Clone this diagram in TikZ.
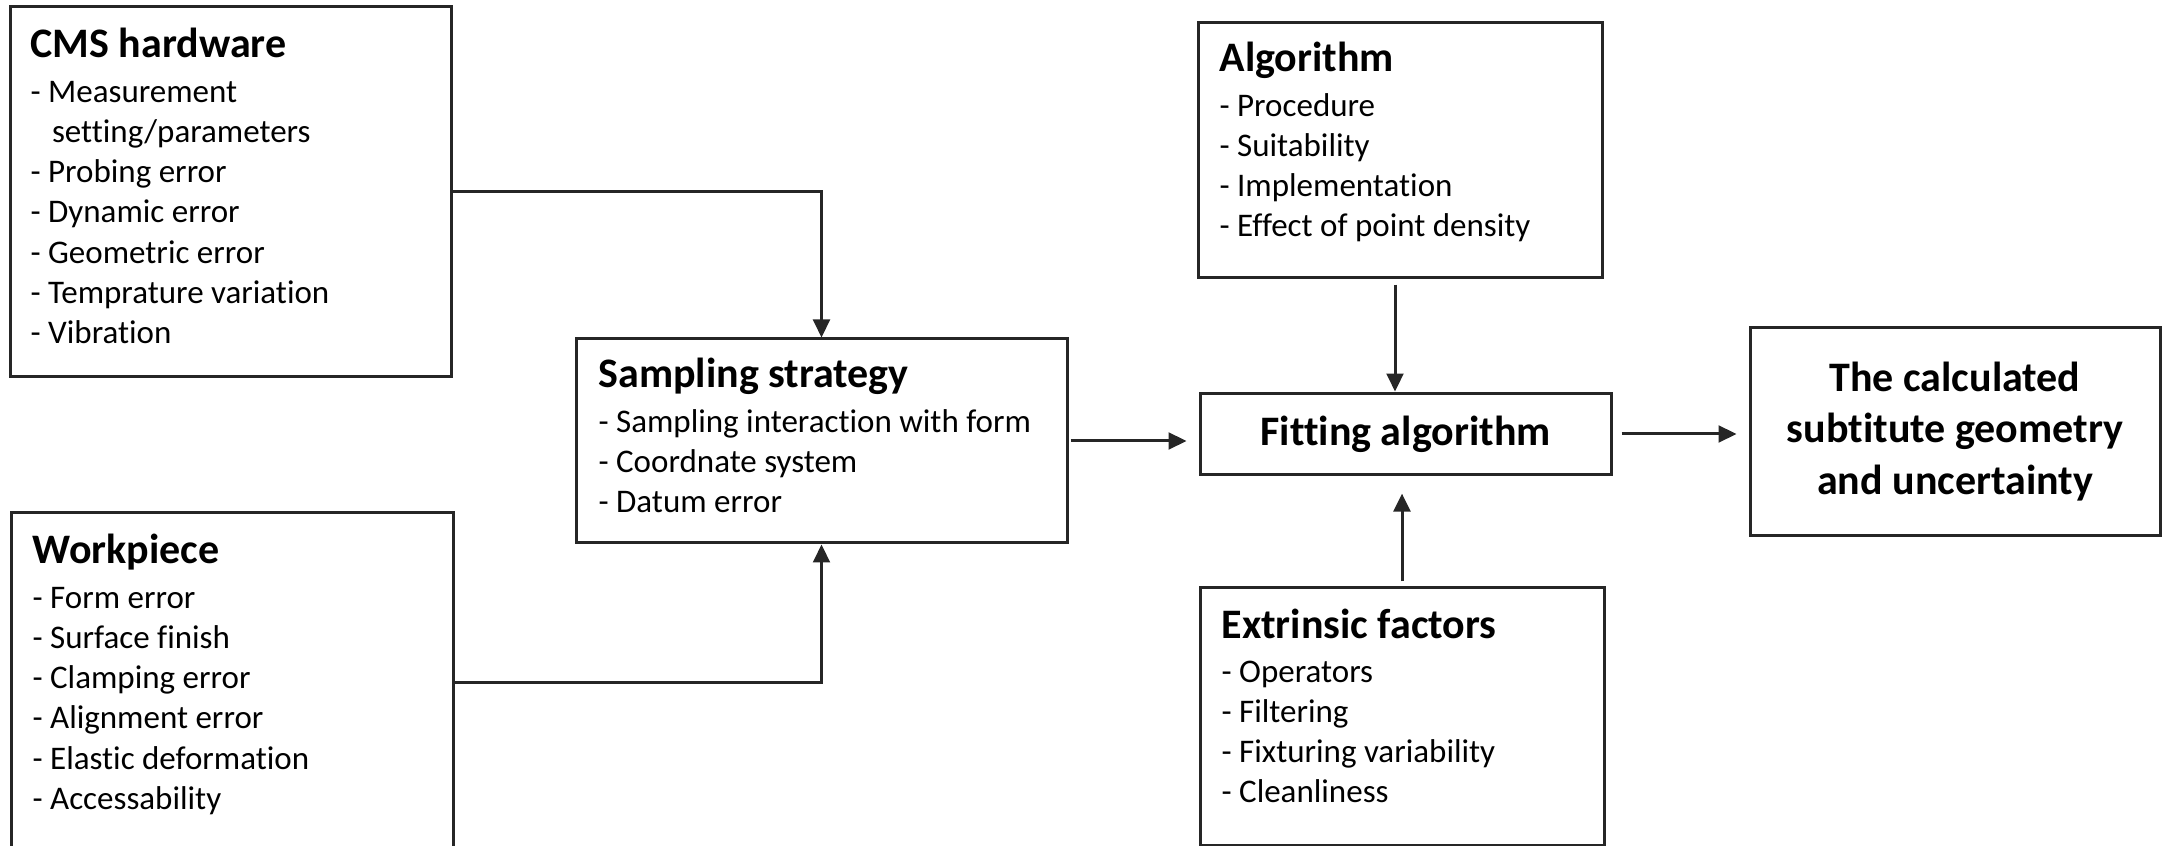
\documentclass[tikz,border=0pt]{standalone}
\usepackage{fontspec}
\setmainfont{Carlito}[Ligatures=NoCommon]
\usetikzlibrary{arrows.meta,fit,calc}

% A heading in bold followed by a list of dash items
\newcommand\factorlist[2]{%
  \parbox[t]{220pt}{\raggedright
    \fontsize{14}{14}\selectfont\bfseries #1\par
    \vspace{1.27pt}%
    \fontsize{11}{13.43}\selectfont\mdseries #2}}
\newcommand\contline{\hspace*{0.65em}}

\tikzset{
  box/.style={draw=black!85, line width=1pt, inner sep=0pt},
  conn/.style={draw=black!85, line width=1pt},
  arr/.style={conn, -{Triangle[length=6pt,width=5.6pt]}},
  listtext/.style={anchor=base west, inner sep=0pt},
  headline/.style={box, font=\fontsize{14}{17.2}\selectfont\bfseries, align=center},
}

\begin{document}
\begin{tikzpicture}[x=0.33333pt, y=-0.33333pt]
\useasboundingbox (0,0) rectangle (2164,846);

% boxes
\node[box, fit={(10,7) (451,377)}] (cms) {};
\node[box, fit={(11,513) (453,851)}] (wp) {};
\node[box, fit={(576,339) (1067,543)}] (sam) {};
\node[box, fit={(1198,23) (1602,278)}] (alg) {};
\node[headline, minimum width=137pt, minimum height=27.33pt] (fita) at (1405.5,434) {Fitting algorithm};
\node[box, fit={(1200,588) (1604,845)}] (ext) {};
\node[headline, minimum width=136.67pt, minimum height=69pt] (res) at (1955,431.5)
  {The calculated\\subtitute geometry\\and uncertainty};

% box contents
\node[listtext] (cmst) at (30,58) {\factorlist{CMS hardware}{%
  - Measurement\\\contline setting/parameters\\- Probing error\\- Dynamic error\\%
  - Geometric error\\- Temprature variation\\- Vibration}};
\node[listtext] (wpt) at (32,564) {\factorlist{Workpiece}{%
  - Form error\\- Surface finish\\- Clamping error\\- Alignment error\\%
  - Elastic deformation\\- Accessability}};
\node[listtext] (samt) at (598,388) {\factorlist{Sampling strategy}{%
  - Sampling interaction with form\\- Coordnate system\\- Datum error}};
\node[listtext] (algt) at (1219,72) {\factorlist{Algorithm}{%
  - Procedure\\- Suitability\\- Implementation\\- Effect of point density}};
\node[listtext] (extt) at (1221,638) {\factorlist{Extrinsic factors}{%
  - Operators\\- Filtering\\- Fixturing variability\\- Cleanliness}};

% connectors
\draw[arr] (cms.east) -| (sam.north);
\draw[arr] (wp.east) -| (sam.south);
\draw[arr, shorten <=0.7pt, shorten >=4pt] (sam.east) -- (sam.east -| fita.west);
\draw[arr, shorten <=1.7pt] ($(alg.south)+(-5,0)$) -- ($(fita.north)+(-10.5,0)$);
\draw[arr, shorten <=1.7pt, shorten >=5.7pt] (ext.north) -- (ext.north |- fita.south);
\draw[arr, shorten <=3pt, shorten >=4pt] (fita.east) -- (fita.east -| res.west);
\end{tikzpicture}
\end{document}
